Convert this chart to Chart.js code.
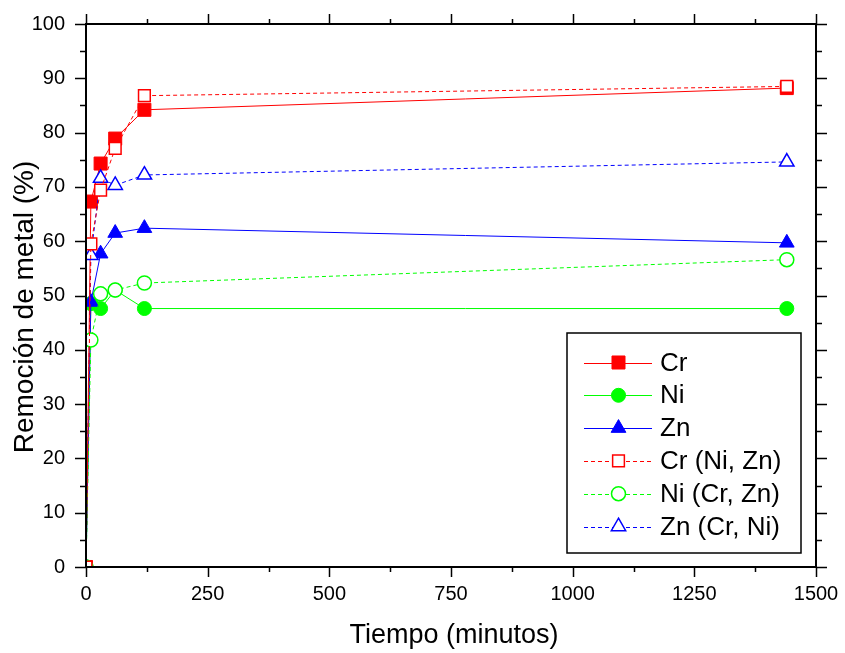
<!DOCTYPE html>
<html>
<head>
<meta charset="utf-8">
<script src="https://cdn.jsdelivr.net/npm/chart.js@4.4.1/dist/chart.umd.min.js"></script>
<style>
html,body{margin:0;padding:0;background:#fff;}
canvas{display:block;}
</style>
</head>
<body>
<canvas id="c" width="845" height="653"></canvas>
<script>
const tiempo = [0, 10, 30, 60, 120, 1440];
const cr = [0, 67.3, 74.3, 78.9, 84.2, 88.2];
const ni = [0, 48.5, 47.6, 51.0, 47.6, 47.6];
const zn = [0, 48.8, 57.7, 61.5, 62.4, 59.7];
const crNiZn = [0, 59.5, 69.4, 77.1, 86.8, 88.5];
const niCrZn = [0, 41.8, 50.3, 51.0, 52.3, 56.6];
const znCrNi = [0, 57.4, 71.6, 70.3, 72.2, 74.6];
const seriesNames = ['Cr', 'Ni', 'Zn', 'Cr (Ni, Zn)', 'Ni (Cr, Zn)', 'Zn (Cr, Ni)'];
const xTitle = 'Tiempo (minutos)';
const yTitle = 'Remoción de metal (%)';

const RED = '#ff0000', GREEN = '#00ff00', BLUE = '#0000ff';
const FONT = '"Liberation Sans", Arial, sans-serif';

function pts(vals){ return tiempo.map((t,i)=>({x:t, y:vals[i]})); }

function ds(label, vals, color, style, filled, radius, order){
  return {
    label, data: pts(vals),
    borderColor: color, borderWidth: 1,
    borderDash: filled ? [] : [4,3],
    pointStyle: style, pointRadius: radius, pointHoverRadius: radius,
    pointBackgroundColor: filled ? color : '#ffffff',
    pointBorderColor: color, pointBorderWidth: filled ? 1 : 1.5,
    fill: false, tension: 0, order
  };
}

const datasets = [
  ds(seriesNames[0], cr, RED, 'rect', true, 9.2, 1),
  ds(seriesNames[1], ni, GREEN, 'circle', true, 7, 2),
  ds(seriesNames[2], zn, BLUE, 'triangle', true, 8.5, 1),
  ds(seriesNames[3], crNiZn, RED, 'rect', false, 8.3, 0),
  ds(seriesNames[4], niCrZn, GREEN, 'circle', false, 7, 0),
  ds(seriesNames[5], znCrNi, BLUE, 'triangle', false, 8.3, 0)
];

function drawMarker(ctx, style, x, y, r, fillC, strokeC, lw){
  ctx.save();
  ctx.beginPath();
  if (style === 'rect'){
    const s = Math.SQRT1_2 * r;
    ctx.rect(x - s, y - s, 2*s, 2*s);
  } else if (style === 'circle'){
    ctx.arc(x, y, r, 0, Math.PI*2);
  } else {
    let a = 0;
    ctx.moveTo(x + Math.sin(a)*r, y - Math.cos(a)*r);
    a += 2*Math.PI/3;
    ctx.lineTo(x + Math.sin(a)*r, y - Math.cos(a)*r);
    a += 2*Math.PI/3;
    ctx.lineTo(x + Math.sin(a)*r, y - Math.cos(a)*r);
    ctx.closePath();
  }
  ctx.fillStyle = fillC; ctx.fill();
  ctx.lineWidth = lw; ctx.strokeStyle = strokeC; ctx.setLineDash([]); ctx.stroke();
  ctx.restore();
}

const framePlugin = {
  id: 'frame',
  afterDraw(chart){
    const ctx = chart.ctx, a = chart.chartArea;
    const xs = chart.scales.x, ys = chart.scales.y;
    ctx.save();
    ctx.strokeStyle = '#000'; ctx.lineWidth = 2; ctx.setLineDash([]);
    ctx.strokeRect(a.left, a.top, a.right - a.left, a.bottom - a.top);
    ctx.lineWidth = 1.5;
    ctx.beginPath();
    for (let v = 0; v <= 1500; v += 125){
      const p = Math.round(xs.getPixelForValue(v)) + 0.5;
      const L = (v % 250 === 0) ? 10 : 5;
      ctx.moveTo(p, a.bottom); ctx.lineTo(p, a.bottom + L);
      ctx.moveTo(p, a.top); ctx.lineTo(p, a.top - L);
    }
    for (let v = 0; v <= 100; v += 5){
      const p = Math.round(ys.getPixelForValue(v)) + 0.5;
      const L = (v % 10 === 0) ? 11 : 6;
      ctx.moveTo(a.left, p); ctx.lineTo(a.left - L, p);
      ctx.moveTo(a.right, p); ctx.lineTo(a.right + L, p);
    }
    ctx.stroke();

    // axis titles
    ctx.fillStyle = '#000';
    ctx.font = '27px ' + FONT;
    ctx.textAlign = 'center'; ctx.textBaseline = 'alphabetic';
    ctx.fillText(xTitle, (a.left + a.right)/2 + 3, 643);
    ctx.save();
    ctx.translate(33, 307);
    ctx.rotate(-Math.PI/2);
    ctx.font = '28px ' + FONT;
    ctx.fillText(yTitle, 0, 0);
    ctx.restore();

    // legend
    const bx = 567, by = 333, bw = 234, bh = 220;
    ctx.fillStyle = '#fff';
    ctx.fillRect(bx, by, bw, bh);
    ctx.strokeStyle = '#000'; ctx.lineWidth = 1.5;
    ctx.strokeRect(bx, by, bw, bh);
    ctx.font = '26px ' + FONT;
    ctx.textAlign = 'left'; ctx.textBaseline = 'middle';
    chart.data.datasets.forEach((d, i) => {
      const yc = 362.5 + i * 32.8;
      ctx.save();
      ctx.strokeStyle = d.borderColor; ctx.lineWidth = 1;
      ctx.setLineDash(d.borderDash);
      ctx.beginPath(); ctx.moveTo(584, Math.round(yc)+0.5); ctx.lineTo(652, Math.round(yc)+0.5); ctx.stroke();
      ctx.restore();
      drawMarker(ctx, d.pointStyle, 618.5, yc, d.pointRadius, d.pointBackgroundColor, d.pointBorderColor, d.pointBorderWidth);
      ctx.fillStyle = '#000';
      ctx.fillText(d.label, 660, yc + 1);
    });
    ctx.restore();
  }
};

function noPad(s){ s.paddingLeft = 0; s.paddingRight = 0; s.paddingTop = 0; s.paddingBottom = 0; }

new Chart(document.getElementById('c'), {
  type: 'line',
  data: { datasets },
  options: {
    responsive: false, animation: false,
    layout: { padding: { top: 24, right: 29, left: 0, bottom: 0 } },
    plugins: { legend: { display: false }, tooltip: { enabled: false } },
    scales: {
      x: {
        type: 'linear', min: 0, max: 1500,
        grid: { display: false, drawTicks: false },
        border: { display: false },
        ticks: { stepSize: 250, color: '#000', font: { family: FONT, size: 20 }, padding: 15, maxRotation: 0,
                 callback: v => String(v) },
        afterFit(s){ s.height = 86; noPad(s); }
      },
      y: {
        min: 0, max: 100,
        grid: { display: false, drawTicks: false },
        border: { display: false },
        ticks: { stepSize: 10, color: '#000', font: { family: FONT, size: 20 }, padding: 21,
                 callback: v => String(v) },
        afterFit(s){ s.width = 86; noPad(s); }
      }
    }
  },
  plugins: [framePlugin]
});
</script>
</body>
</html>
